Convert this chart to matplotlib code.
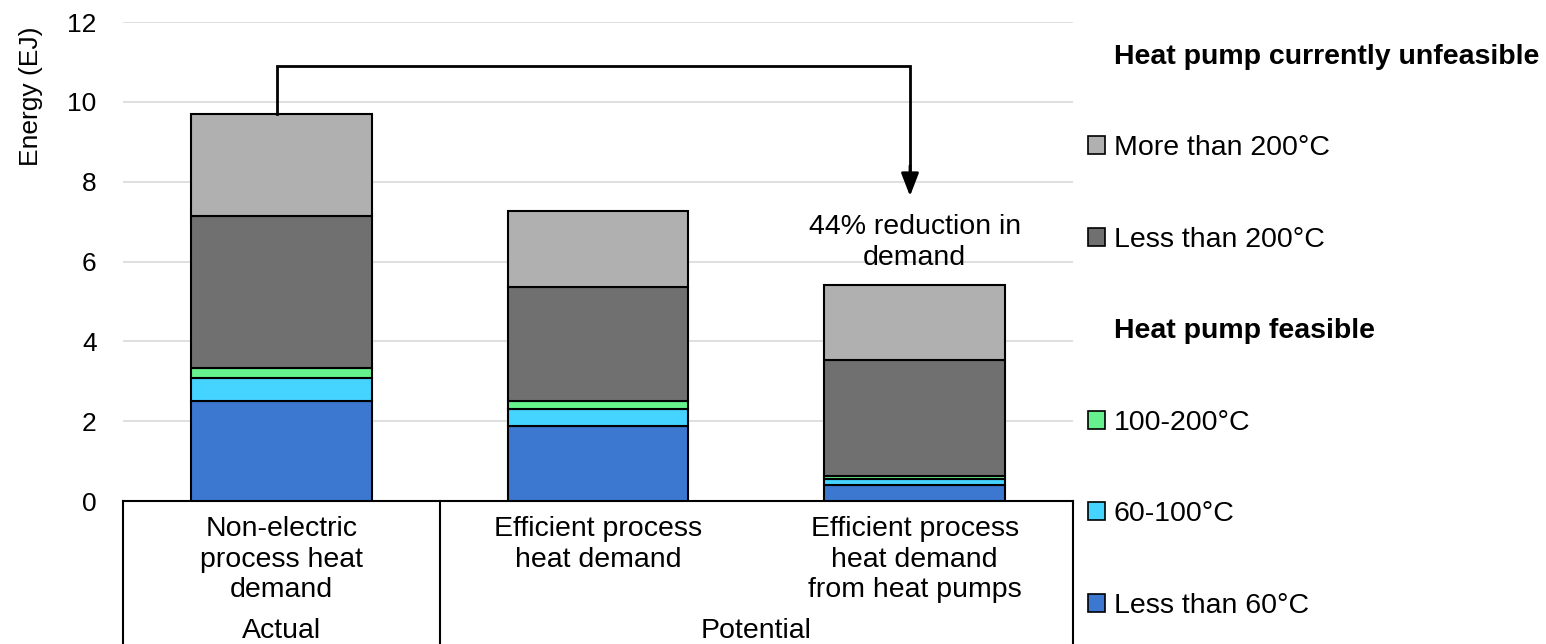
import numpy as np
import matplotlib
matplotlib.use("Agg")
from matplotlib import pyplot as plt
from matplotlib.patches import Patch
from matplotlib.lines import Line2D
import matplotlib.transforms as mtransforms

plt.rcParams['font.family'] = ['Liberation Sans', 'DejaVu Sans']

categories = ["Non-electric\nprocess heat\ndemand",
              "Efficient process\nheat demand",
              "Efficient process\nheat demand\nfrom heat pumps"]
groups = ["Actual", "Potential"]
group_members = [[0], [1, 2]]

# EJ, bottom to top
less_60 = [2.50, 1.88, 0.40]
c60_100 = [0.58, 0.43, 0.15]
c100_200 = [0.25, 0.19, 0.08]
less_200 = [3.82, 2.86, 2.90]
more_200 = [2.55, 1.91, 1.88]

series = [
    ("Less than 60°C", less_60, "#3c78d0"),
    ("60-100°C", c60_100, "#45d4ff"),
    ("100-200°C", c100_200, "#66f28c"),
    ("Less than 200°C", less_200, "#6f706f"),
    ("More than 200°C", more_200, "#b0b0b0"),
]
reduction_text = "44% reduction in\ndemand"

FS = 20.5
TICK_FS = 19
fig = plt.figure(figsize=(15.46, 6.44), dpi=100)
ax = fig.add_axes([0.0796, 0.222, 0.6145, 0.7438])

x = np.arange(len(categories))
bottom = np.zeros(len(categories))
for name, vals, col in series:
    ax.bar(x, vals, width=0.57, bottom=bottom, color=col,
           edgecolor="black", linewidth=1.5, zorder=3)
    bottom += np.array(vals)
totals = bottom

ax.set_xlim(-0.5, 2.5)
ax.set_ylim(0, 12)
ax.set_yticks(range(0, 13, 2))
ax.yaxis.grid(True, color="#d9d9d9", linewidth=1.2, zorder=0)
ax.set_axisbelow(True)
for s in ["left", "right", "top"]:
    ax.spines[s].set_visible(False)
ax.spines["bottom"].set_linewidth(1.5)
ax.tick_params(axis="y", length=0, pad=19, labelsize=TICK_FS)
ax.set_xticks([])

fig.text(0.02, 0.85, "Energy (EJ)", rotation=90, fontsize=TICK_FS,
         ha="center", va="center")

# category table below the axis
trans = mtransforms.blended_transform_factory(ax.transData, ax.transAxes)
for i, lab in enumerate(categories):
    ax.text(x[i], -0.031, lab, transform=trans, ha="center", va="top",
            fontsize=FS, linespacing=1.24)
for g, members in zip(groups, group_members):
    ax.text(np.mean(members), -0.271, g, transform=trans, ha="center",
            va="center", fontsize=FS)
for sep in [-0.5, 0.5, 2.5]:
    ax.plot([sep, sep], [0, -0.31], transform=trans, color="black",
            linewidth=1.5, clip_on=False)

# reduction arrow
x0, x1, ytop = x[0] - 0.015, x[2] - 0.015, 10.9
ax.plot([x0, x0, x1, x1], [totals[0], ytop, ytop, 8.3], color="black",
        linewidth=2, solid_joinstyle="miter", zorder=4)
ax.annotate("", xy=(x1, 7.64), xytext=(x1, 8.4),
            arrowprops=dict(arrowstyle="-|>,head_length=0.7,head_width=0.27",
                            color="black", lw=2, mutation_scale=20,
                            shrinkA=0, shrinkB=0), zorder=4)
ax.text(x[2], 6.47, reduction_text, ha="center", va="center",
        fontsize=FS, linespacing=1.24)

# legend
blank = Line2D([], [], linestyle="none")
handles = [blank]
labels = ["Heat pump currently unfeasible"]
for name, vals, col in series[::-1][:2]:
    handles.append(Patch(facecolor=col, edgecolor="black", linewidth=1.2))
    labels.append(name)
handles.append(blank)
labels.append("Heat pump feasible")
for name, vals, col in series[::-1][2:]:
    handles.append(Patch(facecolor=col, edgecolor="black", linewidth=1.2))
    labels.append(name)
leg = fig.legend(handles, labels, loc="upper left",
                 bbox_to_anchor=(1088 / 1546, 1 - 44 / 644),
                 frameon=False, fontsize=FS, handlelength=0.6,
                 handleheight=0.6, handletextpad=0.3, labelspacing=2.3,
                 borderpad=0, borderaxespad=0)
for t in leg.get_texts():
    if t.get_text().startswith("Heat pump"):
        t.set_fontweight("bold")

plt.savefig("out.png", dpi=100)
